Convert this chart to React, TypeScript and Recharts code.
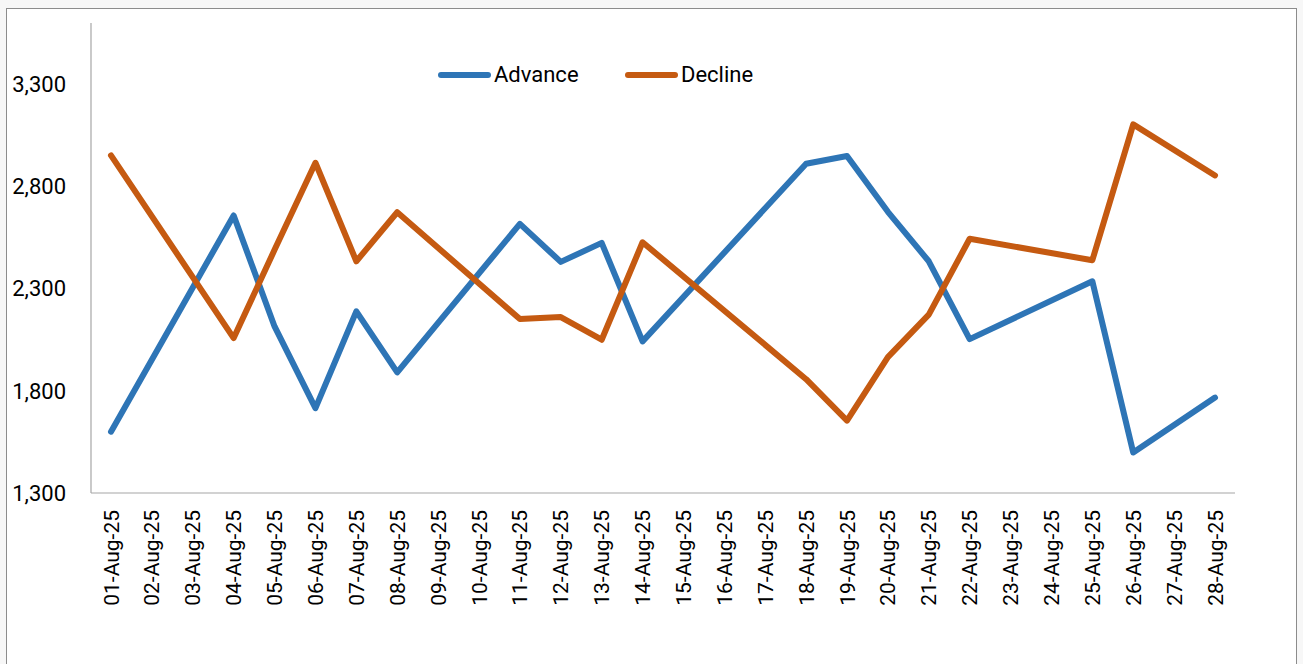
import React from 'react';
import { LineChart, Line, XAxis, YAxis, Legend } from 'recharts';

const dates = [
  '01-Aug-25', '02-Aug-25', '03-Aug-25', '04-Aug-25', '05-Aug-25', '06-Aug-25', '07-Aug-25',
  '08-Aug-25', '09-Aug-25', '10-Aug-25', '11-Aug-25', '12-Aug-25', '13-Aug-25', '14-Aug-25',
  '15-Aug-25', '16-Aug-25', '17-Aug-25', '18-Aug-25', '19-Aug-25', '20-Aug-25', '21-Aug-25',
  '22-Aug-25', '23-Aug-25', '24-Aug-25', '25-Aug-25', '26-Aug-25', '27-Aug-25', '28-Aug-25',
];

const advance: (number | null)[] = [
  1600, null, null, 2658, 2115, 1715, 2189,
  1890, null, null, 2617, 2431, 2524, 2042,
  null, null, null, 2911, 2949, 2676, 2434,
  2053, null, null, 2336, 1498, null, 1767,
];

const decline: (number | null)[] = [
  2952, null, null, 2058, 2490, 2916, 2434,
  2674, null, null, 2151, 2161, 2050, 2527,
  null, null, null, 1857, 1654, 1965, 2173,
  2544, null, null, 2439, 3104, null, 2854,
];

const yTicks = [1300, 1800, 2300, 2800, 3300];

const data = dates.map((d, i) => ({ date: d, Advance: advance[i], Decline: decline[i] }));

const FONT = 'Roboto, sans-serif';
const FS_X = 21;
const FS_Y = 22;

const XTick = (props: any) => {
  const { x, y, payload } = props;
  return (
    <g transform={`translate(${x},${y})`}>
      <text
        transform="rotate(-90)"
        x={0}
        y={0}
        dy="0.36em"
        textAnchor="end"
        fontFamily={FONT}
        fontSize={FS_X}
        fill="#000"
      >
        {payload.value}
      </text>
    </g>
  );
};

const renderLegend = (props: any) => {
  const { payload } = props;
  return (
    <div style={{ display: 'flex', alignItems: 'center' }}>
      {(payload || []).map((p: any, i: number) => (
        <div
          key={i}
          style={{ display: 'flex', alignItems: 'center', width: i === 0 ? 187 : 'auto' }}
        >
          <svg width={54} height={8} style={{ display: 'block' }}>
            <line x1={3} y1={4} x2={50} y2={4} stroke={p.color} strokeWidth={6} strokeLinecap="round" />
          </svg>
          <span style={{ fontFamily: FONT, fontSize: FS_Y, color: '#000', marginLeft: 2, lineHeight: '25px' }}>
            {p.value}
          </span>
        </div>
      ))}
    </div>
  );
};

export default function App() {
  return (
    <div style={{ position: 'fixed', left: 0, top: 0, right: 0, bottom: 0, background: '#f7f7f7' }}>
      <div
        style={{
          position: 'absolute',
          left: 6,
          top: 8,
          width: 1289,
          height: 700,
          background: '#ffffff',
          border: '1px solid #8c8c8c',
        }}
      />
      <div style={{ position: 'absolute', left: 0, top: 0 }}>
        <LineChart
          width={1303}
          height={664}
          data={data}
          margin={{ top: 23, right: 68, bottom: 0, left: 0 }}
        >
          <XAxis
            dataKey="date"
            interval={0}
            height={171}
            tickSize={0}
            tickLine={false}
            tickMargin={17}
            tick={<XTick />}
            padding={{ left: 20, right: 20 }}
            axisLine={{ stroke: '#a6a6a6', strokeWidth: 1.2 }}
          />
          <YAxis
            width={91}
            domain={[1300, 3600]}
            ticks={yTicks}
            interval={0}
            allowDataOverflow
            tickSize={0}
            tickLine={false}
            tickMargin={25}
            tickFormatter={(v: number) => v.toLocaleString('en-US')}
            tick={{ fontFamily: FONT, fontSize: FS_Y, fill: '#000' }}
            axisLine={{ stroke: '#a6a6a6', strokeWidth: 1.2 }}
          />
          <Legend
            layout="horizontal"
            verticalAlign="middle"
            align="center"
            content={renderLegend}
            wrapperStyle={{ left: 438, top: 62, width: 400 }}
          />
          <Line
            type="linear"
            dataKey="Advance"
            name="Advance"
            stroke="#2E75B6"
            strokeWidth={6}
            dot={false}
            activeDot={false}
            connectNulls
            strokeLinecap="round"
            strokeLinejoin="round"
            isAnimationActive={false}
          />
          <Line
            type="linear"
            dataKey="Decline"
            name="Decline"
            stroke="#C55A11"
            strokeWidth={6}
            dot={false}
            activeDot={false}
            connectNulls
            strokeLinecap="round"
            strokeLinejoin="round"
            isAnimationActive={false}
          />
        </LineChart>
      </div>
    </div>
  );
}
